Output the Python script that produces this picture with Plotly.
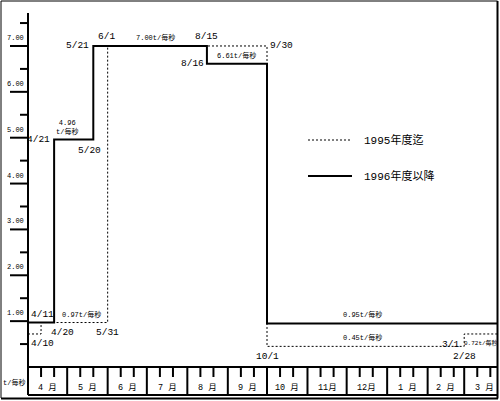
import plotly.graph_objects as go

# fiscal year months (April .. March)
months = ["4 月", "5 月", "6 月", "7 月", "8 月", "9 月",
          "10 月", "11月", "12月", "1 月", "2 月", "3 月"]
month_nums = [4, 5, 6, 7, 8, 9, 10, 11, 12, 1, 2, 3]
month_days = [30, 31, 30, 31, 31, 30, 31, 30, 31, 31, 28, 31]

# 1995年度迄 (dashed)
starts_1995 = ["4/1", "4/11", "6/1", "10/1", "3/1"]
flow_1995 = [0.72, 0.97, 7.00, 0.45, 0.72]

# 1996年度以降 (solid)
starts_1996 = ["4/1", "4/21", "5/21", "8/16", "10/1"]
flow_1996 = [0.97, 4.96, 7.00, 6.61, 0.95]

y_major = [1, 2, 3, 4, 5, 6, 7]
y_minor = [0.5, 1.5, 2.5, 3.5, 4.5, 5.5, 6.5, 7.5]

MONO = "Liberation Mono, Noto Sans CJK JP"


def day_of(md):
    m, d = [int(v) for v in md.split("/")]
    i = month_nums.index(m)
    return sum(month_days[:i]) + d - 1


# layout geometry (pixels)
W, H = 500, 401
L, R, T, B = 28, 3, 3, 6
PW, PH = W - L - R, H - T - B
X_PX_PER_DAY = 1.306
Y_PX_PER_UNIT = 45.86
Y_ZERO_PX = 367
xmax = PW / X_PX_PER_DAY
ymin = -(H - B - Y_ZERO_PX) / Y_PX_PER_UNIT
ymax = (Y_ZERO_PX - T) / Y_PX_PER_UNIT


def xp(px):
    return (px - L) / PW


def yp(py):
    return (H - B - py) / PH


def yv(v):
    # data value -> paper y
    return (v - ymin) / (ymax - ymin)


def dx(day):
    return day / xmax


fig = go.Figure()

x95 = [day_of(s) for s in starts_1995] + [365]
fig.add_trace(go.Scatter(x=x95, y=flow_1995 + [flow_1995[-1]], mode="lines",
                         line=dict(shape="hv", color="black", width=1, dash="2px,2px"),
                         hoverinfo="skip", showlegend=False))
x96 = [day_of(s) for s in starts_1996] + [365]
fig.add_trace(go.Scatter(x=x96, y=flow_1996 + [flow_1996[-1]], mode="lines",
                         line=dict(shape="hv", color="black", width=2),
                         hoverinfo="skip", showlegend=False))

shapes = []


def line(x0, y0, x1, y1, w=2, dash=None):
    ln = dict(color="black", width=w)
    if dash:
        ln["dash"] = dash
    shapes.append(dict(type="line", xref="paper", yref="paper",
                       x0=x0, y0=y0, x1=x1, y1=y1, line=ln))


# outer frame
line(xp(1), yp(1), xp(497.5), yp(1), 1)
line(xp(1), yp(1), xp(1), yp(398), 1)
line(xp(497.5), yp(1), xp(497.5), yp(398.5), 2)
line(xp(1), yp(398.5), xp(498), yp(398.5), 2)

# y axis and its ticks
line(0, yp(13), 0, 0, 2)
for v in y_major:
    line(xp(10), yv(v), 0, yv(v), 2)
for v in y_minor:
    line(xp(20), yv(v), 0, yv(v), 2)

# month box below the plot
line(0, yv(0), 1, yv(0), 2)
line(0, 0, 1, 0, 2)
tick_len = 10 / Y_PX_PER_UNIT
start = 0
for n in month_days:
    line(dx(start), yv(0), dx(start), 0, 2)
    for k in (10, 20):
        line(dx(start + k), yv(0), dx(start + k), yv(-tick_len), 2)
    start += n

# legend
line(xp(308), yp(140), xp(352), yp(140), 1, "2px,2px")
line(xp(308), yp(176), xp(352), yp(176), 2)

annotations = []


def note(text, x, y, xa="center", ya="middle", size=9.5, xs=0, ys=0,
         xref="x", yref="y", family=MONO):
    annotations.append(dict(text=text, x=x, y=y, xref=xref, yref=yref,
                            xanchor=xa, yanchor=ya, xshift=xs, yshift=ys,
                            showarrow=False, font=dict(family=family, size=size, color="black")))


for v in y_major:
    note("%.2f" % v, xp(15), v, yref="y", xref="paper", ya="bottom", ys=2, size=7)
note("t/毎秒", xp(14), yp(382), xref="paper", yref="paper", size=7)

start = 0
for name, n in zip(months, month_days):
    note(name, start + n / 2, -21 / Y_PX_PER_UNIT, size=8.5)
    start += n

# date labels for the step changes
d = day_of
note("4/21", d("4/21"), 4.96, xa="right", xs=-2)
note("4.96<br>t/毎秒", 30, 4.96, ya="bottom", ys=2, size=7)
note("5/20", d("5/21"), 4.96, ya="top", xs=-4, ys=-3)
note("5/21", d("5/21"), 7.00, xa="right", xs=-2)
note("6/1", d("6/1"), 7.00, ya="bottom", xs=-1, ys=2)
note("7.00t/毎秒", 98, 7.00, ya="bottom", ys=2, size=7)
note("8/15", d("8/16"), 7.00, ya="bottom", ys=2)
note("8/16", d("8/16"), 6.61, xa="right", xs=-1)
note("6.61t/毎秒", 160, 6.61, ya="bottom", ys=2, size=7)
note("9/30", d("10/1"), 7.00, xa="left", xs=1)
note("4/11", 0, 0.97, xa="left", ya="bottom", xs=1, ys=1)
note("0.97t/毎秒", 41, 0.97, ya="bottom", ys=2, size=7)
note("4/20", d("4/21"), 0.97, xa="left", ya="top", xs=-5, ys=-2)
note("5/31", d("6/1"), 0.97, ya="top", ys=-2)
note("4/10", 0, 0.72, xa="left", ya="top", xs=1, ys=-2)
note("10/1", d("10/1"), 0.45, ya="top", ys=-3)
note("0.95t/毎秒", 256, 0.95, ya="bottom", ys=2, size=7)
note("0.45t/毎秒", 256, 0.45, ya="bottom", ys=2, size=7)
note("3/1", d("3/1"), 0.72, xa="right", ya="top", xs=-3, ys=-3)
note("0.72t/毎秒", d("3/1"), 0.72, xa="left", ya="top", xs=-2, ys=-3, size=6)
note("2/28", d("3/1"), 0.45, ya="top", ys=-3)

# legend text
note("1995年度迄", xp(362), yp(140), xa="left", xref="paper", yref="paper", size=11)
note("1996年度以降", xp(362), yp(176), xa="left", xref="paper", yref="paper", size=11)

fig.update_layout(
    width=W, height=H,
    margin=dict(l=L, r=R, t=T, b=B),
    paper_bgcolor="white", plot_bgcolor="white",
    xaxis=dict(range=[0, xmax], visible=False, fixedrange=True),
    yaxis=dict(range=[ymin, ymax], visible=False, fixedrange=True),
    shapes=shapes, annotations=annotations,
    showlegend=False,
)

fig.write_html("out.html", config=dict(displayModeBar=False),
               post_script="document.body.style.margin='0';")
